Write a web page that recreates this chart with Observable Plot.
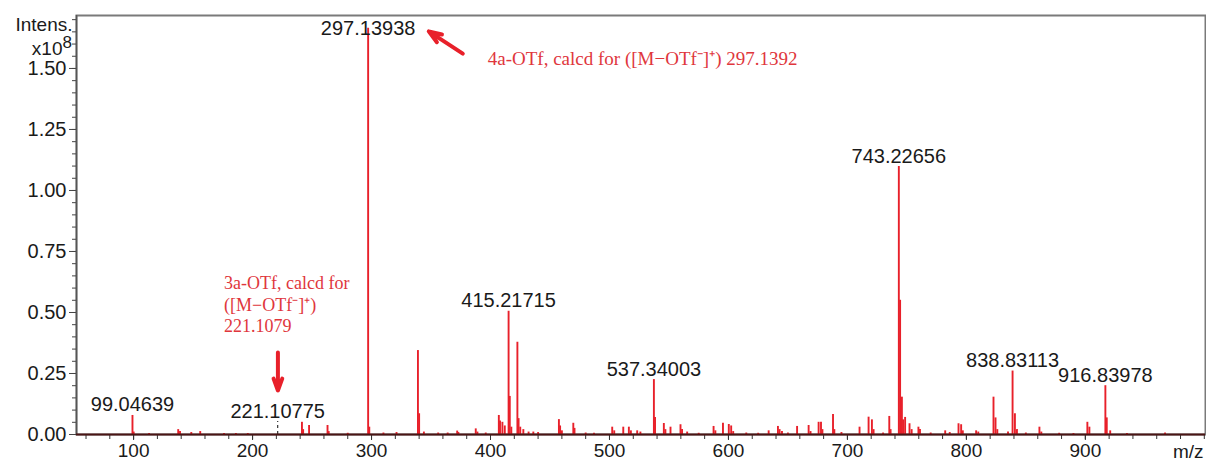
<!DOCTYPE html>
<html><head><meta charset="utf-8">
<script src="https://cdn.jsdelivr.net/npm/d3@7"></script>
<script src="https://cdn.jsdelivr.net/npm/@observablehq/plot@0.6"></script>
<style>body{margin:0;background:#fff;} svg{display:block;}</style>
</head><body><div id="chart"></div>
<script>
// Mass spectrum peaks: m/z and intensity (x10^8)
const peakMz = [99.05,100.05,113,137.5,139,148.5,156,176,186,196,241.5,242.5,247.5,263,264,280,
  297.14,298.1,310,321,339,340,344,356,364,
  372,373,387.6,389,396,407,408,410,412,415.2,416.2,417.5,422.6,423.6,425,427.6,432,436,440,
  457.5,458.5,460,469.6,470.6,480,487,502.3,504,511.6,516.3,518,523.3,526,
  537.34,538.3,545.7,547,551.3,559.7,561,565.3,575,
  587.5,589,595.4,600.3,602.3,604,615,625,633.8,641.6,643,645,650,657.7,667.4,669,675.8,677.8,679,687.9,689,695,
  710.2,717.8,720.6,722,730,735.2,736.3,743.23,744.3,745.8,746.8,748.5,752.2,754,759.7,761,770,
  782.2,786,793.4,795.6,797,808.2,810,822.8,824.5,826,835,838.83,840.8,842.5,850,861.4,863,878,890,
  901.7,903.4,916.84,918,920.9,935,967];
const peakIntensity = [0.078,0.01,0.004,0.02,0.012,0.008,0.012,0.004,0.004,0.004,0.05,0.02,0.037,0.037,0.012,0.005,
  1.665,0.03,0.006,0.008,0.344,0.085,0.01,0.006,0.006,
  0.014,0.008,0.023,0.01,0.006,0.078,0.055,0.05,0.035,0.505,0.156,0.03,0.378,0.065,0.03,0.02,0.01,0.01,0.008,
  0.061,0.035,0.015,0.046,0.025,0.006,0.005,0.03,0.015,0.03,0.03,0.015,0.015,0.01,
  0.225,0.07,0.045,0.02,0.03,0.04,0.02,0.01,0.005,
  0.033,0.015,0.046,0.041,0.035,0.012,0.006,0.005,0.015,0.033,0.02,0.012,0.006,0.033,0.037,0.012,0.05,0.05,0.02,0.082,0.02,0.008,
  0.03,0.071,0.06,0.02,0.006,0.074,0.02,1.098,0.55,0.153,0.06,0.07,0.044,0.02,0.03,0.02,0.006,
  0.015,0.008,0.044,0.04,0.015,0.015,0.01,0.153,0.068,0.02,0.01,0.26,0.085,0.02,0.006,0.03,0.01,0.005,0.004,
  0.05,0.03,0.2,0.068,0.015,0.004,0.006];

// Peak labels
const labelText = ["99.04639","221.10775","297.13938","415.21715","537.34003","743.22656","838.83113","916.83978"];
const labelMz = [99.05,221.1,297.14,415.2,537.34,743.23,838.83,916.84];
const labelIntensity = [0.078,0.053,1.62,0.505,0.225,1.098,0.26,0.2];

// Calculated-mass marker (dashed)
const markerMz = [221.1];
const markerIntensity = [0.053];

// Red annotations
const note3aLines = ["3a-OTf, calcd for","([M\u2212OTf\u207B]\u207A)","221.1079"];
const note3aIntensity = [0.598,0.508,0.418];
const note3aMz = 176;
const note4aText = "4a-OTf, calcd for ([M\u2212OTf\u207B]\u207A) 297.1392";
const note4aMz = 397.7, note4aIntensity = 1.516;

// Axis ticks
const yMajor = [0,0.25,0.5,0.75,1.0,1.25,1.5];
const yMinor = d3.range(0, 1.701, 0.05);
const xMajor = [100,200,300,400,500,600,700,800,900];
const xMinor = d3.range(60, 1001, 20);

const peaks = peakMz.map((m,i)=>({mz:m, i:peakIntensity[i]}));
const labels = labelText.map((t,k)=>({t, mz:labelMz[k], i:labelIntensity[k]}));
const notes3a = note3aLines.map((t,k)=>({t, mz:note3aMz, i:note3aIntensity[k]}));

const sans = "'Liberation Sans', Arial, sans-serif";
const serif = "'Liberation Serif', 'Times New Roman', serif";
const red = "#e8202a";
const noteRed = "#e0363c";

const chart = Plot.plot({
  width: 1206, height: 462,
  marginLeft: 76, marginRight: 1, marginTop: 15, marginBottom: 28,
  style: {fontFamily: sans, fontSize: "20px", color: "#1a1a1a", background: "#fff"},
  x: {domain: [52, 1001], label: null},
  y: {domain: [0, 1.717], label: null},
  marks: [
    Plot.frame({stroke: "#7a7a7a", strokeWidth: 2}),
    Plot.axisY(yMinor, {tickSize: 4, tickFormat: () => "", stroke: "#444", label: null}),
    Plot.axisY(yMajor, {tickSize: 7, tickPadding: 3, tickFormat: d3.format(".2f"), stroke: "#444", label: null}),
    Plot.axisX(xMinor, {tickSize: 5, tickFormat: () => "", stroke: "#333", label: null}),
    Plot.axisX(xMajor, {tickSize: 6, tickPadding: 3, fontSize: 19, stroke: "#333", label: null}),
    Plot.ruleX([52], {stroke: "#555", strokeWidth: 1.5}),
    Plot.ruleX(markerMz, {y1: 0, y2: markerIntensity, stroke: "#333", strokeWidth: 1.2, strokeDasharray: "3,3"}),
    Plot.ruleX(peaks, {x: "mz", y1: 0, y2: "i", stroke: red, strokeWidth: 1.9}),
    Plot.ruleY([0], {stroke: "#4a1515", strokeWidth: 1.8}),
    Plot.text(labels, {x: "mz", y: "i", text: "t", dy: -4, lineAnchor: "bottom", fill: "#1a1a1a", fontSize: 20}),
    Plot.text(notes3a, {x: "mz", y: "i", text: "t", textAnchor: "start", lineAnchor: "bottom", fill: noteRed, fontFamily: serif, fontSize: 18}),
    Plot.text([note4aText], {x: note4aMz, y: note4aIntensity, textAnchor: "start", lineAnchor: "bottom", fill: noteRed, fontFamily: serif, fontSize: 19}),
    Plot.arrow([0], {x1: 221.3, y1: 0.336, x2: 221.3, y2: 0.18, stroke: red, strokeWidth: 4, headLength: 14, headAngle: 40}),
    Plot.arrow([0], {x1: 376.7, y1: 1.561, x2: 348.1, y2: 1.652, stroke: red, strokeWidth: 4, headLength: 14, headAngle: 40}),
    Plot.text(["Intens."], {frameAnchor: "top-left", dx: -4, dy: 15, textAnchor: "end", lineAnchor: "bottom", fontSize: 19}),
    Plot.text(["x10"], {frameAnchor: "top-left", dx: -14, dy: 39, textAnchor: "end", lineAnchor: "bottom", fontSize: 19}),
    Plot.text(["8"], {frameAnchor: "top-left", dx: -14, dy: 32, textAnchor: "start", lineAnchor: "bottom", fontSize: 17}),
    Plot.text(["m/z"], {frameAnchor: "bottom-right", dx: -2, dy: 23, textAnchor: "end", lineAnchor: "bottom", fontSize: 19})
  ]
});
document.getElementById("chart").appendChild(chart);
</script>
</body></html>
